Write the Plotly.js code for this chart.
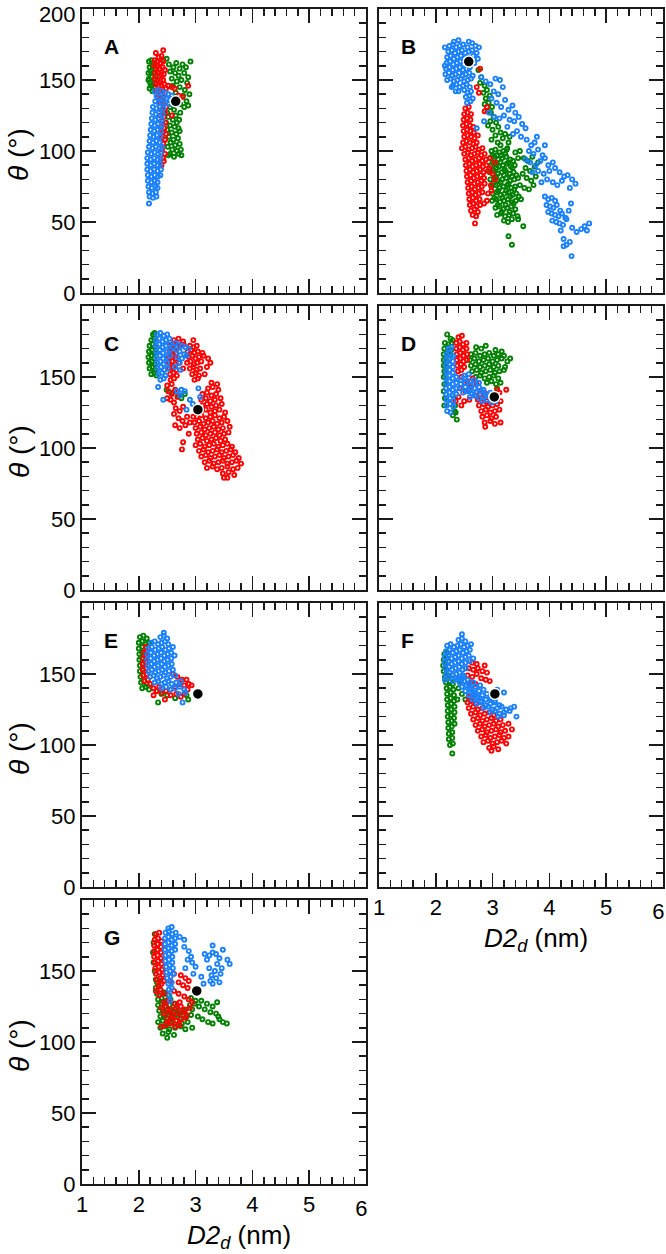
<!DOCTYPE html>
<html>
<head>
<meta charset="utf-8">
<script src="https://cdn.plot.ly/plotly-3.0.1.min.js"></script>
<style>html,body{margin:0;padding:0;background:#fff;}#chart{width:666px;height:1254px;}</style>
</head>
<body>
<div id="chart"></div>
<script>
// ---------- DATA (D2_d in nm, theta in degrees) ----------
const PANEL_LABELS = ['A','B','C','D','E','F','G'];
const X_TICKS = [1,2,3,4,5,6];
const X_TICK_TEXT = ['1','2','3','4','5',''];
const X_END_LABEL_POS = [5.92];
const X_END_LABEL = ['6'];
const Y_TICKS_TOP = [0,50,100,150,200];
const Y_TICK_TEXT_TOP = ['0','50','100','150',''];
const Y_TOP_LABEL_POS = [196.5];
const Y_TOP_LABEL = ['200'];
const Y_TICKS = [0,50,100,150];

// reference structure (black dot) per panel
const REF_X = [2.65, 2.58, 3.04, 3.03, 3.04, 3.04, 3.02];
const REF_Y = [135, 163, 127, 136, 136, 136, 136];

// Panel A
const A_green = [[2.18,163],[2.22,164],[2.27,162],[2.19,159],[2.24,160],[2.29,158],[2.17,155],[2.21,156],[2.26,155],[2.30,153],[2.18,151],[2.23,152],[2.28,150],[2.20,148],[2.25,147],[2.29,145],[2.19,144],[2.24,142],[2.17,150],[2.21,146],
[2.43,164],[2.49,165],[2.53,161],[2.61,159],[2.66,162],[2.72,158],[2.77,161],[2.83,159],[2.91,163],[2.55,156],[2.64,155],[2.70,153],[2.80,155],[2.87,152],[2.58,151],[2.67,149],[2.75,150],[2.85,148],[2.60,146],[2.72,145],[2.81,143],[2.89,140],[2.65,141],[2.78,139],[2.84,135],[2.87,132],[2.73,133],[2.80,131],[2.68,136],[2.73,127],[2.62,129],[2.55,131],[2.50,127],
[2.52,124],[2.60,122],[2.67,120],[2.55,118],[2.63,117],[2.70,116],[2.50,115],[2.58,113],[2.66,112],[2.72,114],[2.53,110],[2.61,108],[2.69,109],[2.56,106],[2.64,104],[2.72,105],[2.51,103],[2.59,101],[2.67,100],[2.74,101],[2.55,98],[2.62,96],[2.52,97],[2.70,98],[2.75,97],[2.48,120],[2.46,108],[2.65,125],[2.71,122]];
const A_red = [[2.30,169],[2.43,171],[2.35,166],[2.40,167],[2.28,164],[2.33,163],[2.38,162],[2.43,163],[2.27,160],[2.32,159],[2.37,158],[2.42,159],[2.46,157],[2.29,155],[2.34,155],[2.39,154],[2.44,154],[2.28,151],[2.33,150],[2.38,150],[2.43,150],[2.30,147],[2.35,146],[2.40,146],[2.45,147],[2.32,143],[2.37,142],[2.42,142],[2.48,144],[2.52,146],[2.58,145],[2.63,144],[2.87,146],[2.77,138],[2.70,139],[2.34,138],[2.44,138],
[2.37,134],[2.43,133],[2.48,131],[2.40,129],[2.46,127],[2.38,125],[2.44,124],[2.58,125],[2.41,121],[2.47,120],[2.39,117],[2.45,116],[2.42,113],[2.48,112],[2.40,109],[2.46,108],[2.43,105],[2.41,101],[2.46,98],[2.43,95],[2.40,90],[2.44,93]];
const A_blue = [[2.28,142],[2.34,143],[2.40,142],[2.46,141],[2.52,140],[2.58,139],[2.31,139],[2.37,138],[2.43,137],[2.49,137],[2.55,136],[2.61,137],[2.29,135],[2.35,134],[2.41,134],[2.47,134],[2.53,133],
[2.25,131],[2.31,130],[2.37,131],[2.43,130],[2.24,127],[2.30,126],[2.36,127],[2.42,126],[2.23,123],[2.29,122],[2.35,123],[2.41,122],[2.22,119],[2.28,118],[2.34,119],[2.40,118],[2.21,115],[2.27,114],[2.33,115],[2.39,114],[2.20,111],[2.26,110],[2.32,111],[2.38,110],[2.19,107],[2.25,106],[2.31,107],[2.37,106],
[2.18,103],[2.24,102],[2.30,103],[2.36,102],[2.41,103],[2.16,99],[2.22,98],[2.28,99],[2.34,98],[2.39,99],[2.15,95],[2.21,94],[2.27,95],[2.33,94],[2.38,95],[2.15,91],[2.21,90],[2.27,91],[2.33,90],[2.38,91],[2.15,87],[2.21,86],[2.27,87],[2.33,86],[2.39,87],[2.16,83],[2.22,82],[2.28,83],[2.34,82],[2.38,83],
[2.16,79],[2.22,78],[2.28,79],[2.33,78],[2.17,75],[2.23,74],[2.29,75],[2.33,74],[2.18,71],[2.24,70],[2.30,71],[2.19,68],[2.25,67],[2.31,68],[2.18,63]];

// Panel B
const B_green = [[2.75,157],[2.80,152],[2.78,148],[2.86,146],[2.84,141],[2.90,143],[2.88,137],[2.95,139],[2.86,133],[2.93,134],[2.99,131],[2.91,128],[2.97,127],
[3.02,124],[3.06,120],[2.96,121],[3.10,117],[3.00,115],[3.14,113],[3.05,111],[3.18,109],[3.22,112],[3.09,106],[3.28,106],[3.14,104],[3.25,101],[2.98,108],[3.30,110],[2.92,118],
[2.98,100],[3.05,101],[3.12,99],[3.19,100],[3.26,102],[3.40,99],[3.00,97],[3.08,97],[3.15,97],[3.22,98],
[2.96,95],[3.03,96],[3.10,94],[3.17,95],[3.24,96],[3.31,94],[3.45,95],[3.00,92],[3.14,92],[3.28,92],[3.36,93],
[2.97,90],[3.04,91],[3.11,89],[3.18,90],[3.25,91],[3.32,89],[3.39,90],[3.00,87],[3.07,88],[3.21,87],[3.35,88],
[2.95,85],[3.02,86],[3.09,84],[3.16,85],[3.23,86],[3.30,84],[3.37,85],[3.06,82],[3.20,83],[3.34,82],[3.42,83],
[2.96,80],[3.03,81],[3.10,79],[3.17,80],[3.24,81],[3.31,79],[3.38,80],[3.45,81],[3.01,77],[3.14,78],[3.28,77],
[2.98,75],[3.05,76],[3.12,74],[3.19,75],[3.26,76],[3.33,74],[3.40,75],[3.48,76],[3.10,72],[3.24,72],[3.38,73],
[3.00,70],[3.07,71],[3.14,69],[3.21,70],[3.28,71],[3.35,69],[3.42,70],[3.03,67],[3.17,67],[3.31,68],[3.46,68],
[2.99,65],[3.06,66],[3.13,64],[3.20,65],[3.27,66],[3.34,64],[3.41,65],[3.50,66],[3.09,62],[3.23,62],[3.37,63],
[3.05,60],[3.12,61],[3.19,59],[3.26,60],[3.33,61],[3.40,59],[3.16,57],[3.30,57],
[3.08,55],[3.15,56],[3.22,54],[3.29,55],[3.36,56],[3.44,54],[3.20,51],[3.27,50],[3.34,52],
[3.28,40],[3.34,34],[3.54,47],[3.45,52],
[3.55,95],[3.62,93],[3.70,96],[3.58,88],[3.66,86],[3.74,89],[3.80,92],[3.60,81],[3.68,79],[3.76,82],[3.56,74],[3.64,73],[3.72,76],[3.48,100],[3.53,84]];
const B_red = [[2.72,145],[2.78,158],[2.76,141],[2.90,131],[2.86,128],
[2.52,130],[2.58,131],[2.50,126],[2.56,127],[2.62,126],[2.49,122],[2.55,123],[2.61,122],[2.48,118],[2.54,119],[2.60,118],[2.66,117],[2.49,114],[2.55,115],[2.61,114],[2.67,113],[2.50,110],[2.56,111],[2.62,110],[2.68,109],[2.74,111],[2.48,106],[2.54,107],[2.60,106],[2.66,105],[2.72,106],
[2.46,102],[2.52,103],[2.58,101],[2.64,102],[2.70,103],[2.76,101],[2.82,102],[2.50,98],[2.56,99],[2.62,97],[2.68,98],[2.74,99],[2.80,97],[2.86,98],
[2.52,94],[2.58,95],[2.64,93],[2.70,94],[2.76,95],[2.82,93],[2.88,94],[2.95,95],[2.53,90],[2.59,91],[2.65,89],[2.71,90],[2.77,91],[2.83,89],[2.89,90],
[2.54,86],[2.60,87],[2.66,85],[2.72,86],[2.78,87],[2.84,85],[2.92,86],[2.55,82],[2.61,83],[2.67,81],[2.73,82],[2.79,83],[2.85,81],
[2.56,78],[2.62,79],[2.68,77],[2.74,78],[2.80,79],[2.86,77],[2.57,74],[2.63,75],[2.69,73],[2.75,74],[2.81,75],
[2.58,70],[2.64,71],[2.70,69],[2.76,70],[2.82,71],[2.92,70],[2.98,72],[2.59,66],[2.65,67],[2.71,65],[2.77,66],
[2.60,62],[2.66,63],[2.72,61],[2.78,62],[2.85,63],[2.62,58],[2.68,59],[2.74,57],[2.65,55],[2.71,54],[2.69,49],
[2.95,88],[3.00,84],[3.04,80],[2.97,76],[3.04,92],[2.90,65]];
const B_blue = [[2.32,177],[2.40,178],[2.58,177],[2.64,176],
[2.24,174],[2.30,175],[2.36,173],[2.42,174],[2.48,175],[2.56,173],[2.70,174],[2.76,173],
[2.22,170],[2.28,171],[2.34,169],[2.40,170],[2.46,171],[2.52,169],[2.58,170],[2.64,171],[2.72,169],
[2.20,166],[2.26,167],[2.32,165],[2.38,166],[2.44,167],[2.50,165],[2.56,166],[2.66,167],[2.74,165],
[2.19,162],[2.25,163],[2.31,161],[2.37,162],[2.43,163],[2.49,161],[2.55,162],[2.68,162],
[2.18,158],[2.24,159],[2.30,157],[2.36,158],[2.42,159],[2.48,157],[2.54,158],[2.60,159],
[2.17,154],[2.23,155],[2.29,153],[2.35,154],[2.41,155],[2.47,153],[2.53,154],[2.59,155],[2.65,153],
[2.20,150],[2.26,151],[2.32,149],[2.38,150],[2.44,151],[2.50,149],[2.56,150],[2.62,151],
[2.30,146],[2.36,147],[2.42,145],[2.48,146],[2.54,147],[2.60,145],[2.40,142],[2.50,143],[2.56,141],[2.62,142],
[2.53,138],[2.59,139],[2.65,137],[2.55,134],[2.61,135],[2.16,173],[2.16,160],[2.28,145],[2.35,142],
[2.80,152],[2.88,149],[2.96,147],[3.05,151],[3.13,150],[3.02,142],[3.10,140],[3.18,145],[2.98,137],[3.07,134],[3.15,131],[3.22,136],[3.28,129],[3.35,132],[3.40,127],[2.94,127],[3.03,124],[3.12,123],[3.20,125],[3.30,122],[3.38,121],[3.46,124],[3.52,119],[3.58,116],[3.43,114],[3.50,110],[2.72,116],[2.85,121],[3.26,117],[3.36,112],
[3.60,108],[3.68,104],[3.74,106],[3.64,100],[3.72,98],[3.80,101],[3.88,97],[3.58,94],[3.66,92],[3.76,90],[3.84,93],[3.92,95],[3.98,90],[4.06,92],[3.70,85],[3.80,86],[3.90,84],[4.00,86],[4.10,88],[4.18,85],[4.26,82],[3.86,78],[3.96,80],[4.06,78],[4.14,76],[4.22,79],[4.32,83],[4.40,80],[4.46,77],[4.36,74],[3.78,110],[3.92,104],
[3.92,68],[3.98,66],[4.04,67],[4.10,65],[3.95,62],[4.01,61],[4.07,60],[4.13,62],[4.19,58],[3.98,57],[4.04,56],[4.10,55],[4.16,54],[4.22,56],[4.28,53],[4.05,51],[4.12,50],[4.18,49],[4.24,48],[4.30,52],[4.20,44],[4.25,38],[4.30,34],[4.36,36],[4.25,33],[4.40,46],[4.48,43],[4.56,45],[4.62,47],[4.70,49],[4.66,44],[4.39,26],[4.34,58],[4.38,63]];

// Panel C
const C_green = [[2.25,180],[2.28,181],[2.22,176],[2.27,177],[2.19,172],[2.24,173],[2.29,171],[2.18,168],[2.23,169],[2.28,167],[2.17,164],[2.22,165],[2.27,163],[2.18,160],[2.23,161],[2.28,159],[2.19,156],[2.24,157],[2.29,155],[2.22,152],[2.27,153],[2.31,151],
[2.49,141],[2.75,135],[2.81,138],[2.70,137],[2.60,139]];
const C_red = [[2.62,176],[2.70,177],[2.78,175],[2.96,176],
[2.55,172],[2.61,173],[2.67,171],[2.73,172],[2.79,173],[2.90,172],[2.96,171],[3.02,172],
[2.54,168],[2.60,169],[2.66,167],[2.86,168],[2.92,169],[2.98,167],[3.04,168],[3.12,167],
[2.53,164],[2.59,165],[2.65,163],[2.88,164],[2.94,165],[3.00,163],[3.06,164],[3.14,165],[3.22,163],
[2.53,160],[2.59,161],[2.65,159],[2.71,160],[2.85,160],[2.91,161],[2.97,159],[3.03,160],[3.10,161],[3.26,160],
[2.54,156],[2.60,157],[2.66,155],[2.78,156],[2.90,156],[2.96,157],[3.02,155],[3.08,156],[3.20,157],
[2.55,152],[2.61,153],[2.67,151],[2.94,152],[3.00,153],[3.06,151],[3.16,152],[2.56,148],[2.62,149],[2.98,148],[3.04,149],[2.50,144],[2.58,145],
[2.52,140],[2.58,138],[2.64,141],[2.50,135],[2.56,134],[2.62,132],[2.68,136],
[2.65,128],[2.72,126],[2.78,129],[2.62,124],[2.70,121],[2.77,119],[2.85,122],[2.64,116],[2.72,114],[2.82,116],[2.90,118],[2.96,122],[3.00,126],[2.88,110],[2.78,104],[2.76,99],
[3.28,146],[3.38,145],[3.22,142],[3.30,143],[3.40,141],[3.12,138],[3.20,139],[3.28,137],[3.36,138],
[3.10,134],[3.18,135],[3.26,133],[3.34,134],[3.44,135],[3.12,130],[3.20,131],[3.28,129],[3.36,130],[3.46,131],
[3.10,126],[3.18,127],[3.26,125],[3.34,126],[3.42,127],[3.52,125],[3.02,122],[3.10,123],[3.18,121],[3.26,122],[3.34,123],[3.42,121],[3.50,122],
[2.98,118],[3.06,119],[3.14,117],[3.22,118],[3.30,119],[3.38,117],[3.46,118],[3.56,119],
[3.00,114],[3.08,115],[3.16,113],[3.24,114],[3.32,115],[3.40,113],[3.48,114],[3.60,115],
[3.02,110],[3.10,111],[3.18,109],[3.26,110],[3.34,111],[3.42,109],[3.50,110],[3.58,111],
[3.04,106],[3.12,107],[3.20,105],[3.28,106],[3.36,107],[3.44,105],[3.52,106],
[3.00,102],[3.08,103],[3.16,101],[3.24,102],[3.32,103],[3.40,101],[3.48,102],[3.56,103],[3.64,101],
[3.06,98],[3.14,99],[3.22,97],[3.30,98],[3.38,99],[3.46,97],[3.54,98],[3.62,99],[3.70,97],
[3.10,94],[3.18,95],[3.26,93],[3.34,94],[3.42,95],[3.50,93],[3.58,94],[3.66,95],[3.76,93],
[3.16,90],[3.24,91],[3.32,89],[3.40,90],[3.48,91],[3.56,89],[3.64,90],[3.72,91],[3.80,89],
[3.20,86],[3.30,87],[3.38,85],[3.46,86],[3.56,87],[3.66,85],[3.74,86],[3.48,82],[3.58,83],[3.68,81],[3.50,79],[3.56,79]];
const C_blue = [[2.32,180],[2.38,181],[2.44,179],[2.50,180],
[2.30,176],[2.36,177],[2.42,175],[2.48,176],[2.54,177],[2.30,172],[2.36,173],[2.42,171],[2.48,172],[2.54,173],[2.60,171],
[2.31,168],[2.37,169],[2.43,167],[2.49,168],[2.55,169],[2.31,164],[2.37,165],[2.43,163],[2.49,164],[2.55,165],
[2.32,160],[2.38,161],[2.44,159],[2.50,160],[2.33,156],[2.39,157],[2.45,155],[2.51,156],[2.35,152],[2.41,153],[2.47,151],[2.38,148],[2.44,149],
[2.64,174],[2.70,173],[2.76,172],[2.82,171],[2.66,169],[2.72,168],[2.80,166],[2.88,170],[2.68,164],[2.76,163],[2.84,165],[2.72,160],[2.64,157],
[2.34,143],[2.43,134],[2.73,155],[2.75,141],[2.81,140],[3.05,142],[3.08,136],[2.90,134],[2.84,127],[2.73,137],[2.67,140],[2.95,131]];

// Panel D
const D_green = [[2.20,180],[2.26,177],[2.30,176],[2.16,174],[2.22,173],[2.28,174],[2.15,170],[2.21,171],[2.27,169],[2.14,166],[2.20,167],[2.26,165],[2.14,162],[2.20,161],[2.14,158],[2.19,157],[2.15,154],
[2.14,150],[2.15,145],[2.14,140],[2.16,135],[2.15,130],[2.32,135],[2.34,130],[2.33,126],[2.30,123],[2.37,120],[2.35,125],
[2.71,171],[2.80,170],[2.88,172],[3.16,168],[3.31,163],[3.05,169],
[2.62,166],[2.70,167],[2.78,165],[2.86,166],[2.94,167],[3.02,165],[3.10,166],[3.20,165],
[2.60,162],[2.68,163],[2.76,161],[2.84,162],[2.92,163],[3.00,161],[3.08,162],[3.16,163],[3.26,161],
[2.62,158],[2.70,159],[2.78,157],[2.86,158],[2.94,159],[3.02,157],[3.10,158],[3.22,157],
[2.64,154],[2.72,155],[2.80,153],[2.88,154],[2.96,155],[3.04,153],[3.12,154],[3.20,155],
[2.70,150],[2.78,151],[2.86,149],[2.94,150],[3.02,151],[3.10,149],[2.90,146],[2.98,147],[3.06,145],[3.14,146],[3.08,142]];
const D_red = [[2.40,178],[2.46,179],[2.36,174],[2.42,175],[2.48,173],[2.54,174],[2.36,170],[2.42,171],[2.48,169],[2.54,170],
[2.37,166],[2.43,167],[2.49,165],[2.55,166],[2.37,162],[2.43,163],[2.49,161],[2.55,162],[2.38,158],[2.44,159],[2.50,157],[2.39,154],[2.45,155],
[2.45,150],[2.55,147],[2.65,149],[2.42,142],[2.52,140],[2.62,143],[2.72,145],[2.40,136],[2.50,133],[2.59,134],[2.70,137],[2.78,140],[2.45,130],[2.35,133],
[3.08,141],[3.24,141],[2.78,138],[2.86,139],[2.94,137],[3.02,138],[3.12,139],
[2.74,134],[2.82,135],[2.90,133],[2.98,134],[3.06,135],[3.14,133],[2.76,130],[2.84,131],[2.92,129],[3.00,130],[3.08,131],
[2.80,126],[2.88,127],[2.96,125],[3.04,126],[3.12,127],[2.82,122],[2.90,123],[2.98,121],[3.06,122],
[2.86,118],[2.96,119],[3.04,117],[3.14,118],[2.87,115]];
const D_blue = [[2.22,170],[2.28,171],[2.19,166],[2.25,167],[2.31,165],[2.18,162],[2.24,163],[2.30,161],[2.18,158],[2.24,159],[2.30,157],[2.18,154],[2.24,155],[2.30,153],
[2.18,150],[2.24,151],[2.30,149],[2.36,150],[2.18,146],[2.24,147],[2.30,145],[2.36,146],[2.18,142],[2.24,143],[2.30,141],[2.36,142],[2.18,138],[2.24,139],[2.30,137],[2.36,138],
[2.19,134],[2.25,135],[2.31,133],[2.19,130],[2.25,131],[2.31,129],[2.20,126],[2.26,125],
[2.50,151],[2.58,152],[2.44,148],[2.52,149],[2.60,147],[2.68,148],[2.44,145],[2.52,146],[2.60,144],[2.68,145],[2.76,146],
[2.44,142],[2.52,143],[2.60,141],[2.68,142],[2.76,143],[2.84,141],[2.48,139],[2.56,140],[2.64,138],[2.72,139],[2.80,140],[2.88,138],[2.96,139],
[2.60,136],[2.68,137],[2.76,135],[2.84,136],[2.92,137],[3.00,135],[2.82,133],[2.90,134],[2.98,132],[3.06,133]];

// Panel E
const E_green = [[2.02,176],[2.08,177],[2.14,175],[2.00,172],[2.06,173],[2.12,171],[2.18,172],[2.00,168],[2.06,169],[2.01,164],[2.06,165],[2.01,160],[2.06,161],[2.02,156],[2.07,157],[2.02,152],[2.07,153],[2.03,148],[2.08,149],[2.04,144],[2.09,145],[2.14,143],[2.06,140],[2.12,141],[2.18,139],
[2.31,138],[2.34,130],[2.64,133],[2.87,132],[2.84,135],[2.50,135],[2.40,136]];
const E_red = [[2.12,169],[2.09,165],[2.15,166],[2.08,161],[2.14,162],[2.07,157],[2.13,158],[2.07,153],[2.13,154],[2.08,149],[2.14,150],[2.10,145],[2.16,146],
[2.20,143],[2.26,140],[2.32,138],[2.40,137],[2.48,138],[2.56,139],[2.64,141],[2.72,143],[2.80,142],[2.88,143],[2.93,142],[2.60,150],[2.68,148],[2.76,146],[2.84,146],[2.36,141],[2.46,132],[2.56,135],[2.66,136],[2.74,134],[2.80,136],[2.86,139],[2.26,135]];
const E_blue = [[2.44,179],[2.38,176],[2.44,177],[2.50,175],
[2.22,172],[2.28,173],[2.34,171],[2.40,172],[2.46,173],[2.52,171],
[2.17,168],[2.23,169],[2.29,167],[2.35,168],[2.41,169],[2.47,167],[2.53,168],[2.60,169],
[2.15,164],[2.21,165],[2.27,163],[2.33,164],[2.39,165],[2.45,163],[2.51,164],[2.57,165],[2.63,163],
[2.15,160],[2.21,161],[2.27,159],[2.33,160],[2.39,161],[2.45,159],[2.51,160],[2.57,161],
[2.16,156],[2.22,157],[2.28,155],[2.34,156],[2.40,157],[2.46,155],[2.52,156],[2.58,157],
[2.17,152],[2.23,153],[2.29,151],[2.35,152],[2.41,153],[2.47,151],[2.53,152],[2.60,153],
[2.20,148],[2.26,149],[2.32,147],[2.38,148],[2.44,149],[2.50,147],[2.56,148],[2.64,149],
[2.28,144],[2.34,145],[2.40,143],[2.46,144],[2.52,145],[2.58,143],[2.66,144],[2.74,145],
[2.40,140],[2.48,141],[2.56,139],[2.64,140],[2.72,141],[2.80,139],[2.77,130],[2.82,137],[2.70,136]];

// Panel F
const F_green = [[2.15,164],[2.20,165],[2.14,160],[2.19,161],[2.13,156],[2.18,157],[2.14,152],[2.19,153],
[2.16,148],[2.22,149],[2.28,147],[2.18,144],[2.24,145],[2.30,143],[2.19,140],[2.25,141],[2.31,139],[2.20,136],[2.26,137],[2.32,135],
[2.20,132],[2.26,133],[2.32,131],[2.21,128],[2.27,129],[2.33,127],[2.21,124],[2.27,125],[2.33,123],[2.21,120],[2.27,121],[2.32,119],
[2.22,116],[2.28,117],[2.33,115],[2.22,112],[2.28,113],[2.23,108],[2.29,109],[2.23,104],[2.29,105],[2.25,100],[2.30,101],[2.29,94],
[2.40,140],[2.46,136],[2.52,132],[2.44,145],[2.38,132]];
const F_red = [[2.64,158],[2.72,157],[2.86,156],[2.58,154],[2.66,153],[2.74,154],[2.82,152],[2.90,151],[2.56,149],[2.64,148],[2.72,150],[2.80,147],[2.88,146],[2.95,145],[2.62,144],[2.70,143],
[2.58,134],[2.64,135],[2.56,130],[2.62,131],[2.70,129],[2.58,126],[2.66,127],[2.74,125],[2.82,126],
[2.62,122],[2.70,123],[2.78,121],[2.86,122],[2.94,123],[3.02,121],
[2.66,118],[2.74,119],[2.82,117],[2.90,118],[2.98,119],[3.06,117],[3.14,118],
[2.70,114],[2.78,115],[2.86,113],[2.94,114],[3.02,115],[3.10,113],[3.18,114],[3.28,115],
[2.74,110],[2.82,111],[2.90,109],[2.98,110],[3.06,111],[3.14,109],[3.22,110],[3.34,111],
[2.80,106],[2.88,107],[2.96,105],[3.04,106],[3.12,107],[3.20,105],[3.28,106],
[2.84,102],[2.92,103],[3.00,101],[3.08,102],[3.16,103],[3.24,101],[2.94,98],[3.02,99],[3.10,97],[2.98,96]];
const F_blue = [[2.46,178],[2.40,174],[2.46,175],[2.52,173],
[2.20,170],[2.26,171],[2.32,169],[2.38,170],[2.44,171],[2.50,169],[2.56,170],[2.62,171],
[2.18,166],[2.24,167],[2.30,165],[2.36,166],[2.42,167],[2.48,165],[2.54,166],[2.60,167],
[2.16,162],[2.22,163],[2.28,161],[2.34,162],[2.40,163],[2.46,161],[2.52,162],[2.58,163],[2.66,161],
[2.16,158],[2.22,159],[2.28,157],[2.34,158],[2.40,159],[2.46,157],[2.52,158],[2.60,159],
[2.17,154],[2.23,155],[2.29,153],[2.35,154],[2.41,155],[2.47,153],[2.53,154],
[2.18,150],[2.24,151],[2.30,149],[2.36,150],[2.42,151],[2.48,149],[2.16,146],[2.22,147],[2.30,145],[2.38,146],[2.46,147],
[2.40,147],[2.48,148],[2.56,146],[2.42,144],[2.50,145],[2.58,143],[2.66,144],
[2.46,141],[2.54,142],[2.62,140],[2.70,141],[2.78,142],[2.52,138],[2.60,139],[2.68,137],[2.76,138],[2.84,139],
[2.58,135],[2.66,136],[2.74,134],[2.82,135],[2.90,136],[2.98,134],[2.64,132],[2.72,133],[2.80,131],[2.88,132],[2.96,133],[3.04,131],
[2.72,129],[2.80,130],[2.88,128],[2.96,129],[3.04,130],[3.12,128],
[2.84,126],[2.92,127],[3.00,125],[3.08,126],[3.16,127],[3.24,125],[3.32,126],
[2.96,123],[3.04,124],[3.12,122],[3.20,123],[3.30,124],[3.10,120],[3.20,121],[3.42,120],[3.38,127],[3.08,139],[3.20,137]];

// Panel G
const G_green = [[2.28,176],[2.26,170],[2.25,163],[2.26,156],[2.28,150],[2.30,144],
[2.32,142],[2.38,143],[2.30,138],[2.36,139],[2.32,134],[2.44,135],[2.52,133],
[2.34,130],[2.40,131],[2.48,129],[2.56,130],[2.92,131],[3.00,129],
[2.34,126],[2.40,127],[2.46,125],[2.54,126],[2.62,127],[2.90,126],[2.98,127],[3.06,125],
[2.36,122],[2.42,123],[2.48,121],[2.56,122],[2.64,123],[2.72,121],[2.80,122],[2.94,123],
[2.38,118],[2.44,119],[2.50,117],[2.58,118],[2.66,119],[2.74,117],[2.84,118],[2.92,119],
[2.34,114],[2.42,115],[2.50,113],[2.58,114],[2.66,115],[2.76,113],[2.86,114],
[2.38,110],[2.46,111],[2.54,109],[2.64,110],[2.74,111],[2.82,109],[2.94,110],[2.42,106],[2.52,107],[2.62,105],[2.50,103],
[3.10,129],[3.20,127],[3.30,125],[3.38,128],[3.16,123],[3.26,121],[3.36,120],[3.04,118],[3.12,116],[3.22,114],[3.30,113],[3.42,116],[3.48,114],[3.55,113],[3.40,118]];
const G_red = [[2.30,176],[2.36,177],[2.28,172],[2.34,173],[2.40,171],[2.27,168],[2.33,169],[2.39,167],[2.27,164],[2.33,165],[2.39,163],
[2.27,160],[2.33,161],[2.39,159],[2.28,156],[2.34,157],[2.40,155],[2.29,152],[2.35,153],[2.41,151],[2.30,148],[2.36,149],[2.42,147],
[2.32,144],[2.38,145],[2.44,143],[2.34,140],[2.40,141],[2.30,136],[2.38,137],
[2.62,148],[2.74,147],[2.82,145],[2.88,143],[2.70,142],[2.78,140],[2.86,138],[2.62,136],[2.70,134],[2.80,132],[2.88,130],[2.94,128],
[2.44,128],[2.52,129],[2.64,127],[2.72,128],[2.40,124],[2.48,125],[2.56,123],[2.66,124],[2.74,125],[2.82,123],[2.90,124],
[2.44,120],[2.52,121],[2.60,119],[2.68,120],[2.76,121],[2.84,119],[2.50,116],[2.58,117],[2.66,115],[2.74,116],[2.82,117],
[2.48,112],[2.56,113],[2.64,111],[2.72,112],[2.40,111],[2.36,133],[2.46,134],[2.55,143]];
const G_blue = [[2.52,180],[2.58,181],[2.47,177],[2.53,178],[2.59,176],[2.65,177],
[2.46,173],[2.52,174],[2.58,172],[2.64,173],[2.72,174],[2.80,172],
[2.46,169],[2.52,170],[2.58,168],[2.64,169],[2.46,165],[2.52,166],[2.58,164],[2.64,165],
[2.47,161],[2.53,162],[2.59,160],[2.47,157],[2.53,158],[2.59,156],[2.48,153],[2.54,154],[2.60,152],
[2.49,149],[2.55,150],[2.61,148],[2.50,145],[2.56,146],[2.52,141],[2.58,142],[2.53,137],[2.58,138],[2.54,133],[2.55,129],
[2.80,167],[2.88,164],[2.92,160],[2.86,158],[2.94,156],[3.00,153],[3.24,161],[3.30,163],[3.36,162],[3.30,168],[3.42,159],[3.48,165],[3.56,158],[3.60,155],[3.38,155],[3.34,150],[3.28,147],[3.24,152],[3.20,158],[3.16,162],[3.36,145],[3.42,142],[3.30,141],[3.26,143],[3.46,152],[3.10,146],[3.14,141],[2.96,148],[2.82,152],[3.44,148]];

const PANEL_SERIES = [
  [A_green, A_red, A_blue],
  [B_green, B_red, B_blue],
  [C_green, C_red, C_blue],
  [D_green, D_red, D_blue],
  [E_green, E_red, E_blue],
  [F_green, F_red, F_blue],
  [G_green, G_red, G_blue]
];
const SERIES_COLORS = ['#008000', '#ff0000', '#1a80ff'];

// ---------- LAYOUT ----------
const W = 666, H = 1254;
const COL_PX = [[82, 366], [379, 663]];
const ROW_PX = [[9, 293], [306, 590], [603, 887], [900, 1184]];
const AX = '#1a1a1a';
const FONT = 'Arial, "Liberation Sans", Helvetica, sans-serif';
const TICK_SIZE = 22;

const traces = [];
const layout = {
  width: W, height: H,
  margin: {l: 0, r: 0, t: 0, b: 0},
  paper_bgcolor: '#fff', plot_bgcolor: '#fff',
  showlegend: false,
  font: {family: FONT, color: '#000', size: TICK_SIZE},
  annotations: []
};

PANEL_LABELS.forEach((lab, i) => {
  const c = i % 2, r = Math.floor(i / 2);
  const n = i === 0 ? '' : String(i + 1);
  const xd = [COL_PX[c][0] / W, COL_PX[c][1] / W];
  const yd = [1 - ROW_PX[r][1] / H, 1 - ROW_PX[r][0] / H];

  PANEL_SERIES[i].forEach((pts, k) => {
    traces.push({
      type: 'scatter', mode: 'markers',
      x: pts.map(p => p[0]), y: pts.map(p => p[1]),
      xaxis: 'x' + n, yaxis: 'y' + n,
      marker: {symbol: 'circle-open', size: 4, color: SERIES_COLORS[k], line: {width: 1.9, color: SERIES_COLORS[k]}},
      hoverinfo: 'skip'
    });
  });
  traces.push({
    type: 'scatter', mode: 'markers',
    x: [REF_X[i]], y: [REF_Y[i]],
    xaxis: 'x' + n, yaxis: 'y' + n,
    marker: {symbol: 'circle', size: 11, color: '#000', line: {width: 1.5, color: '#fff'}},
    hoverinfo: 'skip'
  });

  layout['xaxis' + n] = {
    domain: xd, anchor: 'y' + n, range: [1, 6],
    tickmode: 'array', tickvals: X_TICKS, ticktext: X_TICK_TEXT,
    ticks: 'inside', ticklen: 14, tickwidth: 1.5, tickcolor: AX,
    showline: true, linecolor: AX, linewidth: 2, mirror: 'ticks',
    showgrid: false, zeroline: false,
    showticklabels: i >= 5,
    ticklabeloverflow: 'allow',
    tickfont: {family: FONT, size: TICK_SIZE, color: '#000'},
    minor: {tickmode: 'linear', tick0: 1, dtick: 0.2, ticks: 'inside', ticklen: 7, tickwidth: 1.5, tickcolor: AX, showgrid: false},
    fixedrange: true
  };
  const yt = i === 0 ? Y_TICKS_TOP : Y_TICKS;
  const ytt = i === 0 ? Y_TICK_TEXT_TOP : Y_TICKS.map(String);
  layout['yaxis' + n] = {
    domain: yd, anchor: 'x' + n, range: [0, 200],
    tickmode: 'array', tickvals: yt, ticktext: ytt,
    ticks: 'inside', ticklen: 14, tickwidth: 1.5, tickcolor: AX,
    showline: true, linecolor: AX, linewidth: 2, mirror: 'ticks',
    showgrid: false, zeroline: false,
    showticklabels: c === 0,
    ticklabeloverflow: 'allow',
    tickfont: {family: FONT, size: TICK_SIZE, color: '#000'},
    minor: {tickmode: 'linear', tick0: 0, dtick: 10, ticks: 'inside', ticklen: 7, tickwidth: 1.5, tickcolor: AX, showgrid: false},
    fixedrange: true
  };

  // panel letter
  layout.annotations.push({
    text: '<b>' + lab + '</b>', xref: 'paper', yref: 'paper',
    x: (COL_PX[c][0] + 20) / W, y: 1 - (ROW_PX[r][0] + 37) / H,
    xanchor: 'left', yanchor: 'middle', showarrow: false,
    font: {family: FONT, size: 21, color: '#000'}
  });
  // y title
  if (c === 0) {
    layout.annotations.push({
      text: '<i>θ</i> (°)', xref: 'paper', yref: 'paper',
      x: 19 / W, y: 1 - ((ROW_PX[r][0] + ROW_PX[r][1]) / 2 + 4) / H,
      xanchor: 'center', yanchor: 'middle', textangle: -90, showarrow: false,
      font: {family: FONT, size: 28, color: '#000'}
    });
  }
  // x title
  if (i >= 5) {
    layout.annotations.push({
      text: '<i>D2</i><sub><i>d</i></sub> (nm)', xref: 'paper', yref: 'paper',
      x: (COL_PX[c][0] + 157) / W, y: 1 - (ROW_PX[r][1] + 52) / H,
      xanchor: 'center', yanchor: 'middle', textangle: 0, showarrow: false,
      font: {family: FONT, size: 26, color: '#000'}
    });
  }
});

// label-only axes: the end labels ("200" on A, "6" on F and G) sit just inside the frame, as in the original.
const HIDDEN_TICK = 'rgba(0,0,0,0)';
traces.push({type: 'scatter', mode: 'markers', x: [], y: [], xaxis: 'x', yaxis: 'y8', hoverinfo: 'skip'});
layout.yaxis8 = {
  overlaying: 'y', anchor: 'x', side: 'left', range: [0, 200],
  tickmode: 'array', tickvals: Y_TOP_LABEL_POS, ticktext: Y_TOP_LABEL,
  ticks: 'inside', ticklen: 14, tickwidth: 1.5, tickcolor: HIDDEN_TICK,
  showline: true, linecolor: AX, linewidth: 2, mirror: false,
  showgrid: false, zeroline: false,
  ticklabeloverflow: 'allow',
  tickfont: {family: FONT, size: TICK_SIZE, color: '#000'},
  fixedrange: true
};
[['x8', 'x6', 'y6'], ['x9', 'x7', 'y7']].forEach(([ov, base, ya]) => {
  traces.push({type: 'scatter', mode: 'markers', x: [], y: [], xaxis: ov, yaxis: ya, hoverinfo: 'skip'});
  layout['xaxis' + ov.slice(1)] = {
    overlaying: base, anchor: ya, side: 'bottom', range: [1, 6],
    tickmode: 'array', tickvals: X_END_LABEL_POS, ticktext: X_END_LABEL,
    ticks: 'inside', ticklen: 14, tickwidth: 1.5, tickcolor: HIDDEN_TICK,
    ticklabelstandoff: 4,
    showline: true, linecolor: AX, linewidth: 2, mirror: false,
    showgrid: false, zeroline: false,
    ticklabeloverflow: 'allow',
    tickfont: {family: FONT, size: TICK_SIZE, color: '#000'},
    fixedrange: true
  };
});

Plotly.newPlot('chart', traces, layout, {staticPlot: true, displayModeBar: false});
</script>
</body>
</html>
